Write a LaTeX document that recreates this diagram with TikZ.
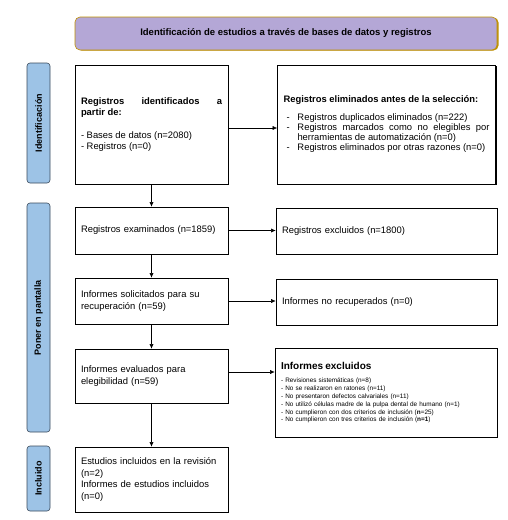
\documentclass[tikz,border=0pt]{standalone}
\usepackage{fontspec}
\setmainfont{Liberation Sans}
\usetikzlibrary{arrows.meta,shadows}

\hyphenpenalty=10000
\exhyphenpenalty=10000

\definecolor{titlefill}{HTML}{B4A7D6}
\definecolor{titleline}{HTML}{BF9000}
\definecolor{phasefill}{HTML}{9DC3E6}
\definecolor{phaseline}{HTML}{3A4A5C}

\tikzset{
    leftbox/.style={draw, line width=0.6pt, fill=white, align=left, inner sep=6pt,
        font=\fontsize{9.4}{11.6}\selectfont},
    rightbox/.style={leftbox, drop shadow={shadow xshift=1.4pt, shadow yshift=-0.6pt, opacity=1, fill=black}},
    phase/.style={draw=phaseline, line width=0.6pt, fill=phasefill, rounded corners=3pt,
        rotate=90, minimum height=23pt, inner sep=0pt, font=\bfseries\fontsize{9}{10}\selectfont},
    arr/.style={-{Latex[length=4.5pt,width=4pt]}, line width=0.5pt}
}

\newcommand{\listitem}[1]{\hangindent=14pt\hangafter=1\hspace*{3pt}\makebox[11pt][l]{-}#1\par}

\begin{document}
\begin{tikzpicture}[x=1pt, y=-1pt]
    \useasboundingbox (0,0) rectangle (507,520);

    % Title bar on top
    \node[draw=titleline, fill=titlefill, rounded corners=5pt, line width=0.6pt,
          minimum width=422pt, minimum height=33pt,
          drop shadow={shadow xshift=1.5pt, shadow yshift=-0.5pt, opacity=1, fill=titleline},
          font=\bfseries\fontsize{9.5}{11}\selectfont] (title) at (286,33.5)
          {Identificación de estudios a través de bases de datos y registros};

    % Phase labels on the left
    \node[phase, minimum width=120pt] (idphase) at (38.5,123) {Identificación};
    \node[phase, minimum width=229pt] (screenphase) at (38.5,317.5) {Poner en pantalla};
    \node[phase, minimum width=65pt] (incphase) at (38.5,478.5) {Incluido};

    % Left column
    \node[leftbox, text width=141pt, minimum height=119pt, align=justify,
          font=\fontsize{9.4}{10.8}\selectfont] (ident) at (151.5,124.5)
        {\textbf{Registros identificados a\linebreak partir de:}\par\vspace{13pt}
         - Bases de datos (n=2080)\par
         - Registros (n=0)};
    \node[leftbox, text width=141pt, minimum height=47pt] (screened) at (151.5,230.5)
        {Registros examinados (n=1859)};
    \node[leftbox, text width=141pt, minimum height=46pt] (sought) at (151.5,301)
        {Informes solicitados para su\\recuperación (n=59)};
    \node[leftbox, text width=141pt, minimum height=54pt] (assessed) at (151.5,376)
        {Informes evaluados para\\elegibilidad (n=59)};
    \node[leftbox, text width=141pt, minimum height=65pt] (included) at (151.5,479.5)
        {Estudios incluidos en la revisión\\(n=2)\\Informes de estudios incluidos\\(n=0)};

    % Right column
    \node[rightbox, text width=206pt, minimum height=119pt, align=justify,
          font=\fontsize{9.4}{10}\selectfont] (removed) at (386.5,124.5)
        {\textbf{Registros eliminados antes de la selección:}\par\vspace{8pt}
         \listitem{Registros duplicados eliminados (n=222)}
         \listitem{Registros marcados como no elegibles por herramientas de automatización (n=0)}
         \listitem{Registros eliminados por otras razones (n=0)}};
    \node[rightbox, text width=209pt, minimum height=46pt] (excluded) at (386.5,231)
        {Registros excluidos (n=1800)};
    \node[rightbox, text width=209pt, minimum height=46pt] (notretr) at (386.5,302)
        {Informes no recuperados (n=0)};
    \node[rightbox, text width=210pt, minimum height=89pt,
          font=\fontsize{6.4}{7.8}\selectfont] (reports) at (386,392.5)
        {{\bfseries\fontsize{10}{12}\selectfont Informes excluidos}\par\vspace{6pt}
         - Revisiones sistemáticas (n=8)\\
         - No se realizaron en ratones (n=11)\\
         - No presentaron defectos calvariales (n=11)\\
         - No utilizó células madre de la pulpa dental de humano (n=1)\\
         - No cumplieron con dos criterios de inclusión (\textbf{n}=25)\\
         - No cumplieron con tres criterios de inclusión (\textbf{n=1})};

    % Vertical arrows
    \draw[arr] (ident) -- (screened);
    \draw[arr] (screened) -- (sought);
    \draw[arr] (sought) -- (assessed);
    \draw[arr] (assessed) -- (included);

    % Horizontal arrows
    \draw[arr] (ident.east |- 0,128) -- (removed.west |- 0,128);
    \draw[arr] (screened) -- (excluded.west |- screened);
    \draw[arr] (sought) -- (notretr.west |- sought);
    \draw[arr] (assessed.east |- 0,372) -- (reports.west |- 0,372);
\end{tikzpicture}
\end{document}
